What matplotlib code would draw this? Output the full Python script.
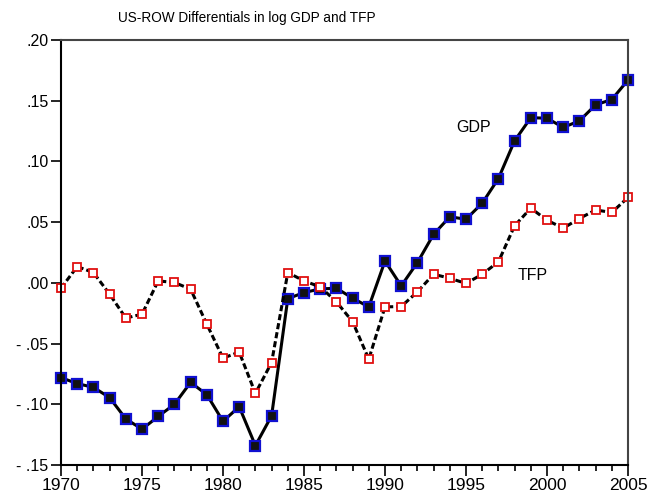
import numpy as np
import matplotlib.pyplot as plt
from matplotlib.ticker import FuncFormatter, MultipleLocator

years = list(range(1970, 2006))

gdp = [-0.078, -0.083, -0.086, -0.0945, -0.112, -0.1205, -0.110, -0.100, -0.082, -0.092,
       -0.114, -0.102, -0.134, -0.1095, -0.013, -0.008, -0.005, -0.0044, -0.0126, -0.0198,
       0.018, -0.0025, 0.0167, 0.040, 0.0544, 0.0524, 0.0656, 0.0859, 0.117, 0.136,
       0.1356, 0.128, 0.1334, 0.1466, 0.151, 0.167]

tfp = [-0.0044, 0.0134, 0.0085, -0.0093, -0.029, -0.0258, 0.0016, 0.0003, -0.0052, -0.034,
       -0.062, -0.057, -0.091, -0.0656, 0.0085, 0.0016, -0.0033, -0.0156, -0.032, -0.0628,
       -0.0198, -0.0195, -0.0074, 0.0071, 0.0038, -0.0005, 0.0071, 0.0173, 0.047, 0.0615,
       0.0516, 0.045, 0.053, 0.060, 0.058, 0.0703]

plt.rcParams['font.family'] = ['Liberation Sans', 'DejaVu Sans']

fig = plt.figure(figsize=(6.51, 5.03), dpi=100)
ax = fig.add_axes([61/651, 1-465/503, (628-61)/651, (465-40)/503])

ax.plot(years, gdp, color='black', lw=2.2, marker='s', ms=6.5,
        mfc='#111111', mec='#1010d0', mew=1.6, clip_on=False)
ax.plot(years, tfp, color='black', lw=2.2, ls=(0, (2.0, 1.0)), marker='s', ms=6,
        mfc='white', mec='#e01010', mew=1.3, clip_on=False)

ax.set_xlim(1970, 2005)
ax.set_ylim(-0.15, 0.20)

ax.xaxis.set_major_locator(MultipleLocator(5))
ax.xaxis.set_minor_locator(MultipleLocator(1))
ax.yaxis.set_major_locator(MultipleLocator(0.05))

def yfmt(v, pos):
    s = "%.2f" % v
    if s.startswith("-0"):
        return "- " + s[2:]
    if s.startswith("0"):
        return s[1:]
    return s

ax.yaxis.set_major_formatter(FuncFormatter(yfmt))
ax.tick_params(axis='y', direction='out', length=7, width=1.2, labelsize=11.5, pad=2)
ax.tick_params(axis='x', which='major', direction='out', length=8, width=1.2, labelsize=12.5, pad=1)
ax.tick_params(axis='x', which='minor', direction='out', length=4, width=1.2)

for side in ['left', 'bottom']:
    ax.spines[side].set_linewidth(1.5)
for side in ['top', 'right']:
    ax.spines[side].set_linewidth(1.5)
    ax.spines[side].set_color('#444444')

ax.text(1994.4, 0.128, "GDP", fontsize=11.5, va='center')
ax.text(1998.2, 0.006, "TFP", fontsize=11.5, va='center')

fig.text(247/651, 1-18/503, "US-ROW Differentials in log GDP and TFP",
         ha='center', va='center', fontsize=9.8)

fig.savefig("out.png", dpi=100)
